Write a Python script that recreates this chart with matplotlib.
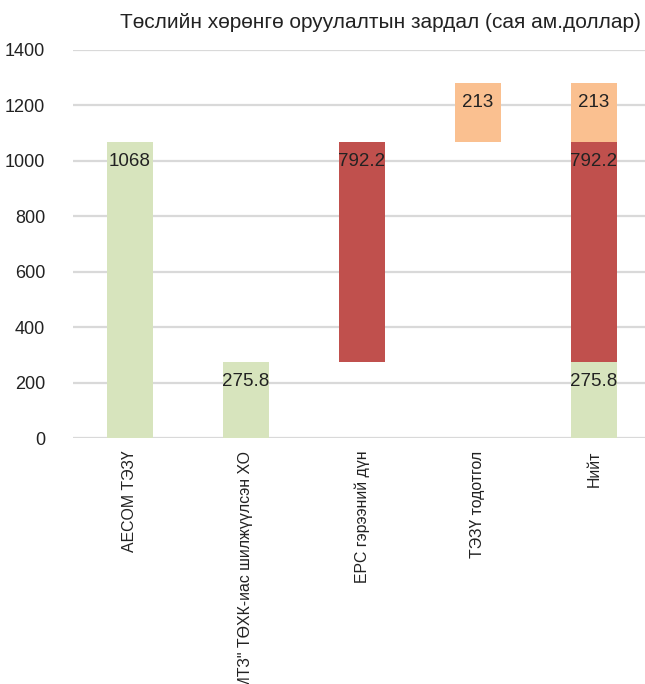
import matplotlib
matplotlib.use("Agg")
import matplotlib.pyplot as plt
import numpy as np

plt.rcParams['font.family'] = ['Liberation Sans', 'DejaVu Sans']

categories = ['AECOM ТЭЗҮ', '"МТЗ" ТӨХК-иас шилжүүлсэн ХО', 'EPC гэрээний дүн',
              'ТЭЗҮ тодотгол', 'Нийт']
aecom = 1068
mtz = 275.8
epc = 792.2
tezu = 213

# waterfall segments: values and their bottoms
green_vals = [aecom, mtz, 0, 0, mtz]
green_bottom = [0, 0, 0, 0, 0]
red_vals = [0, 0, epc, 0, epc]
red_bottom = [0, 0, mtz, 0, mtz]
orange_vals = [0, 0, 0, tezu, tezu]
orange_bottom = [0, 0, 0, mtz + epc, mtz + epc]

fig = plt.figure(figsize=(6.45, 6.84), dpi=100)
ax = fig.add_axes([0.113, 0.3596, 0.887, 0.5674])

x = np.arange(len(categories))
w = 0.4
series = [(green_vals, green_bottom, '#D7E4BD'),
          (red_vals, red_bottom, '#C0504D'),
          (orange_vals, orange_bottom, '#FAC090')]
for vals, bots, col in series:
    ax.bar(x, vals, w, bottom=bots, color=col, zorder=3)
    for xi, v, b in zip(x, vals, bots):
        if v:
            ax.annotate(f'{v:g}', (xi, b + v), xytext=(0, -20), textcoords='offset pixels',
                        ha='center', va='center', fontsize=13.5, color='#222222', zorder=4)

ax.set_xlim(-0.49, 4.44)
ax.set_ylim(0, 1400)
ax.set_yticks(range(0, 1401, 200))
ax.grid(axis='y', color='#D9D9D9', linewidth=1.6, zorder=0)
for s in ax.spines.values():
    s.set_visible(False)
ax.tick_params(axis='both', length=0)
ax.tick_params(axis='y', labelsize=13, pad=20, labelcolor='#222222')
ax.set_xticks(x)
ax.set_xticklabels(categories, rotation=90, fontsize=11.4, color='#222222')
ax.tick_params(axis='x', pad=9)

fig.text(0.993, 0.967, 'Төслийн хөрөнгө оруулалтын зардал (сая ам.доллар)',
         ha='right', va='center', fontsize=15, color='#222222')

fig.savefig('out.png', dpi=100)
